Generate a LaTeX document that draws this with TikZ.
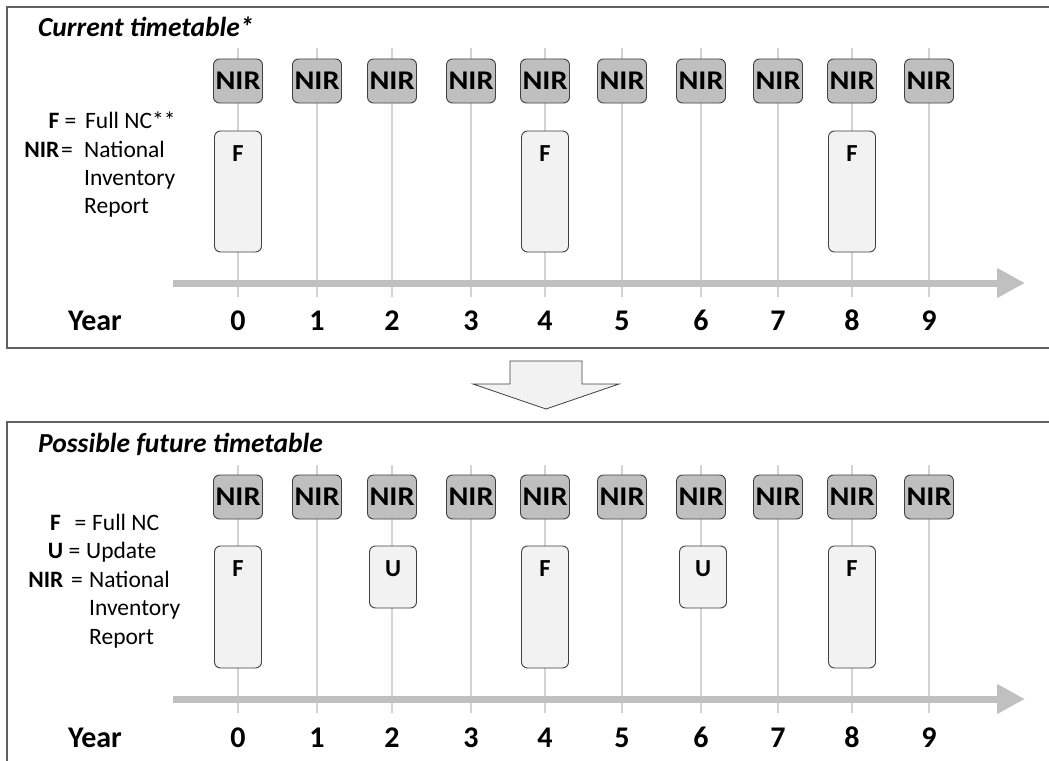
\documentclass[tikz,border=0pt]{standalone}
\usepackage{fontspec}
\setmainfont{Carlito}
\usetikzlibrary{arrows.meta}
\definecolor{nirfill}{HTML}{BFBFBF}
\definecolor{boxfill}{HTML}{F2F2F2}
\definecolor{edgecol}{HTML}{404040}
\definecolor{gridcol}{HTML}{D3D3D3}
\definecolor{axiscol}{HTML}{C0C0C0}
\definecolor{framecol}{HTML}{606060}
\newcommand{\nirtext}{\scalebox{1.12}[1]{NIR}}
\tikzset{
  nirbox/.style={draw=edgecol, fill=nirfill, rounded corners=6pt, minimum width=49pt, minimum height=44pt, inner sep=0pt, line width=0.9pt, font=\fontsize{27}{27}\selectfont\bfseries},
  ncbox/.style={draw=edgecol, fill=boxfill, rounded corners=6pt, minimum width=47pt, inner sep=0pt, line width=0.9pt},
  boxlabel/.style={font=\fontsize{24.5}{24.5}\selectfont\bfseries, inner sep=0pt, anchor=base},
  gridline/.style={draw=gridcol, line width=1.4pt},
  axisline/.style={draw=axiscol, line width=7pt, -{Triangle[length=28pt,width=28pt]}},
  framebox/.style={draw=framecol, line width=1.4pt},
  yearlabel/.style={font=\fontsize{30}{30}\selectfont\bfseries, inner sep=0pt, anchor=base},
  titletext/.style={font=\fontsize{27.5}{27.5}\selectfont\bfseries\itshape, inner sep=0pt, anchor=base west},
  legkey/.style={font=\fontsize{23.5}{23.5}\selectfont\bfseries, inner sep=0pt, anchor=base east},
  legtext/.style={font=\fontsize{23.5}{23.5}\selectfont, inner sep=0pt, anchor=base west},
  legeq/.style={font=\fontsize{23.5}{23.5}\selectfont, inner sep=0pt, anchor=base},
  bigarrow/.style={draw=edgecol, fill=boxfill, line width=0.8pt}
}
\begin{document}
\begin{tikzpicture}[x=1pt,y=-1pt]
\useasboundingbox (0,0) rectangle (1049,760);
\clip (0,0) rectangle (1049,760);
\fill[white] (0,0) rectangle (1049,760);

% ---------- top panel ----------
\draw[framebox] (7,7) rectangle (1070,348);
\node[titletext] (atitle) at (38,37) {Current timetable*};
\foreach \x [count=\i from 0] in {238,317,392,471,545,622,701,778,852,929}{
  \coordinate (agt\i) at (\x,48);
  \coordinate (agb\i) at (\x,297);
  \draw[gridline] (agt\i) -- (agb\i);
}
\coordinate (aax0) at (173,283);
\coordinate (aax1) at (1025,283);
\draw[axisline] (aax0) -- (aax1);
\foreach \x [count=\i from 0] in {238,317,392,471,545,622,701,778,852,929}{
  \node[nirbox] (aN\i) at (\x,81) {\nirtext};
  \node[yearlabel] (aY\i) at (\x,330) {\i};
}
\node[yearlabel] (ayear) at (95,330) {Year};
\foreach \x/\n in {238/0,545/4,852/8}{
  \node[ncbox, minimum height=121pt] (aF\n) at (\x,191.5) {};
  \node[boxlabel] (aFl\n) at ([yshift=-31pt]aF\n.north) {F};
}
\node[legkey] (alk1) at (59.5,128) {F};
\node[legeq] (ale1) at (70.5,128) {=};
\node[legtext] (alt1) at (85,128) {Full NC**};
\node[legkey] (alk2) at (59.5,157) {NIR};
\node[legeq] (ale2) at (67,157) {=};
\node[legtext] (alt3) at (84,157) {National};
\node[legtext] (alt4) at (84,185) {Inventory};
\node[legtext] (alt5) at (84,213) {Report};

% ---------- arrow between panels ----------
\draw[bigarrow] (510,361) -- (582,361) -- (582,384) -- (619,384) -- (546,409) -- (473,384) -- (510,384) -- cycle;

% ---------- bottom panel ----------
\draw[framebox] (7,422) rectangle (1070,790);
\node[titletext] (btitle) at (38,452) {Possible future timetable};
\foreach \x [count=\i from 0] in {238,317,392,471,545,622,701,778,852,929}{
  \coordinate (bgt\i) at (\x,465);
  \coordinate (bgb\i) at (\x,713);
  \draw[gridline] (bgt\i) -- (bgb\i);
}
\coordinate (bax0) at (173,699);
\coordinate (bax1) at (1025,699);
\draw[axisline] (bax0) -- (bax1);
\foreach \x [count=\i from 0] in {238,317,392,471,545,622,701,778,852,929}{
  \node[nirbox] (bN\i) at (\x,497) {\nirtext};
  \node[yearlabel] (bY\i) at (\x,747) {\i};
}
\node[yearlabel] (byear) at (95,747) {Year};
\foreach \x/\n in {238/0,545/4,852/8}{
  \node[ncbox, minimum height=122pt] (bF\n) at (\x,607) {};
  \node[boxlabel] (bFl\n) at ([yshift=-31pt]bF\n.north) {F};
}
\foreach \x/\n in {393/2,703/6}{
  \node[ncbox, minimum height=62pt] (bU\n) at (\x,577) {};
  \node[boxlabel] (bUl\n) at ([yshift=-31pt]bU\n.north) {U};
}
\node[legkey] (blk1) at (61,530) {F};
\node[legeq] (ble1) at (80.5,530) {=};
\node[legtext] (blt1) at (92,530) {Full NC};
\node[legkey] (blk2) at (63.5,558.5) {U};
\node[legeq] (ble2) at (74.5,558.5) {=};
\node[legtext] (blt2) at (86,558.5) {Update};
\node[legkey] (blk3) at (63.5,587) {NIR};
\node[legeq] (ble3) at (77,587) {=};
\node[legtext] (blt4) at (89,587) {National};
\node[legtext] (blt5) at (89,615.5) {Inventory};
\node[legtext] (blt6) at (89,644) {Report};
\end{tikzpicture}
\end{document}
